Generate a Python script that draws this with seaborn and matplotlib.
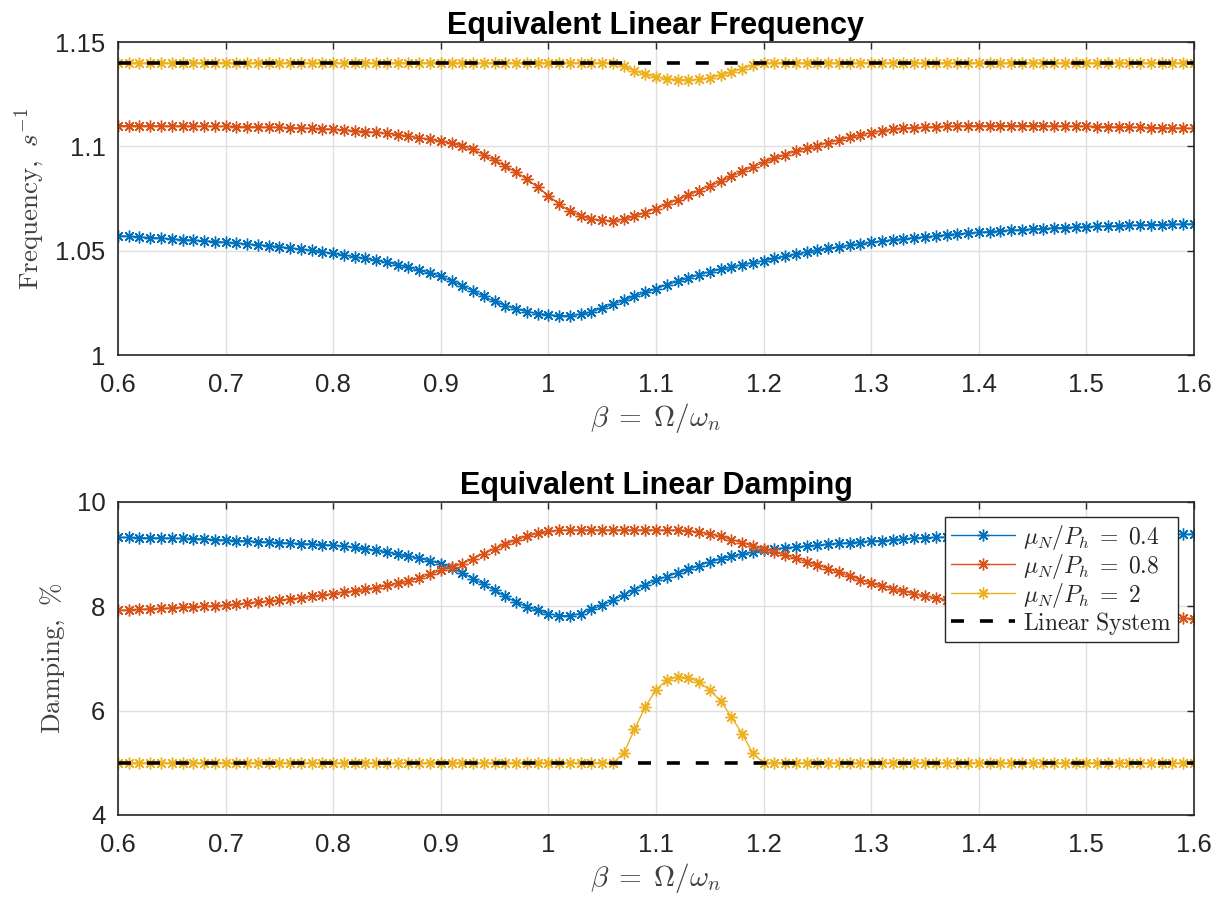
import numpy as np
import matplotlib
matplotlib.use("Agg")
import matplotlib.pyplot as plt
from matplotlib.ticker import FuncFormatter
import seaborn as sns

# Frequency ratio grid (beta = Omega / omega_n)
beta = np.round(np.linspace(0.6, 1.6, 101), 2)

# Equivalent linear frequency, s^-1
freq_mu04 = [
    1.0572, 1.0569, 1.0566, 1.0563, 1.0560, 1.0556, 1.0553, 1.0550, 1.0547, 1.0544,
    1.0540, 1.0536, 1.0532, 1.0528, 1.0524, 1.0519, 1.0513, 1.0507, 1.0501, 1.0494,
    1.0487, 1.0479, 1.0471, 1.0463, 1.0454, 1.0444, 1.0433, 1.0420, 1.0406, 1.0392,
    1.0377, 1.0355, 1.0332, 1.0308, 1.0281, 1.0257, 1.0237, 1.0221, 1.0208, 1.0199,
    1.0193, 1.0189, 1.0189, 1.0195, 1.0207, 1.0224, 1.0243, 1.0262, 1.0281, 1.0300,
    1.0318, 1.0336, 1.0353, 1.0369, 1.0385, 1.0399, 1.0411, 1.0422, 1.0433, 1.0443,
    1.0452, 1.0463, 1.0473, 1.0483, 1.0493, 1.0503, 1.0511, 1.0519, 1.0526, 1.0533,
    1.0540, 1.0546, 1.0552, 1.0557, 1.0562, 1.0567, 1.0571, 1.0576, 1.0580, 1.0584,
    1.0588, 1.0591, 1.0595, 1.0598, 1.0601, 1.0604, 1.0606, 1.0609, 1.0611, 1.0613,
    1.0615, 1.0617, 1.0618, 1.0620, 1.0621, 1.0623, 1.0624, 1.0625, 1.0626, 1.0627,
    1.0628,
]
freq_mu08 = [
    1.1099, 1.1099, 1.1099, 1.1099, 1.1098, 1.1098, 1.1098, 1.1097, 1.1097, 1.1096,
    1.1096, 1.1095, 1.1094, 1.1093, 1.1092, 1.1091, 1.1089, 1.1088, 1.1086, 1.1084,
    1.1082, 1.1079, 1.1075, 1.1071, 1.1067, 1.1062, 1.1056, 1.1049, 1.1041, 1.1033,
    1.1025, 1.1015, 1.1002, 1.0985, 1.0960, 1.0933, 1.0905, 1.0876, 1.0843, 1.0805,
    1.0764, 1.0722, 1.0690, 1.0667, 1.0652, 1.0645, 1.0644, 1.0651, 1.0665, 1.0683,
    1.0702, 1.0722, 1.0744, 1.0766, 1.0788, 1.0809, 1.0832, 1.0856, 1.0880, 1.0902,
    1.0923, 1.0942, 1.0960, 1.0976, 1.0991, 1.1004, 1.1018, 1.1031, 1.1043, 1.1055,
    1.1066, 1.1075, 1.1082, 1.1087, 1.1090, 1.1092, 1.1094, 1.1096, 1.1097, 1.1098,
    1.1099, 1.1099, 1.1099, 1.1099, 1.1099, 1.1099, 1.1098, 1.1098, 1.1097, 1.1097,
    1.1096, 1.1095, 1.1094, 1.1093, 1.1092, 1.1091, 1.1090, 1.1089, 1.1088, 1.1087,
    1.1086,
]
freq_mu2 = [
    1.14, 1.14, 1.14, 1.14, 1.14, 1.14, 1.14, 1.14, 1.14, 1.14,
    1.14, 1.14, 1.14, 1.14, 1.14, 1.14, 1.14, 1.14, 1.14, 1.14,
    1.14, 1.14, 1.14, 1.14, 1.14, 1.14, 1.14, 1.14, 1.14, 1.14,
    1.14, 1.14, 1.14, 1.14, 1.14, 1.14, 1.14, 1.14, 1.14, 1.14,
    1.14, 1.14, 1.14, 1.14, 1.14, 1.14, 1.14, 1.1385, 1.1362, 1.1345,
    1.1333, 1.1325, 1.1320, 1.1318, 1.1321, 1.1329, 1.1341, 1.1356, 1.1372, 1.1388,
    1.14, 1.14, 1.14, 1.14, 1.14, 1.14, 1.14, 1.14, 1.14, 1.14,
    1.14, 1.14, 1.14, 1.14, 1.14, 1.14, 1.14, 1.14, 1.14, 1.14,
    1.14, 1.14, 1.14, 1.14, 1.14, 1.14, 1.14, 1.14, 1.14, 1.14,
    1.14, 1.14, 1.14, 1.14, 1.14, 1.14, 1.14, 1.14, 1.14, 1.14,
    1.14,
]
freq_linear = [1.14, 1.14]

# Equivalent linear damping, %
damp_mu04 = [
    9.32, 9.32, 9.315, 9.31, 9.31, 9.305, 9.30, 9.295, 9.29, 9.28,
    9.27, 9.26, 9.25, 9.24, 9.23, 9.22, 9.21, 9.20, 9.19, 9.18,
    9.17, 9.15, 9.13, 9.10, 9.075, 9.04, 9.00, 8.96, 8.92, 8.87,
    8.82, 8.74, 8.64, 8.53, 8.42, 8.31, 8.19, 8.08, 7.99, 7.92,
    7.86, 7.82, 7.82, 7.86, 7.94, 8.02, 8.12, 8.22, 8.32, 8.41,
    8.50, 8.57, 8.64, 8.71, 8.78, 8.85, 8.91, 8.96, 9.00, 9.04,
    9.07, 9.10, 9.12, 9.14, 9.155, 9.17, 9.19, 9.205, 9.22, 9.235,
    9.25, 9.26, 9.275, 9.29, 9.305, 9.315, 9.32, 9.325, 9.33, 9.335,
    9.34, 9.343, 9.346, 9.349, 9.352, 9.355, 9.357, 9.359, 9.361, 9.363,
    9.365, 9.367, 9.369, 9.371, 9.373, 9.375, 9.376, 9.377, 9.378, 9.379,
    9.38,
]
damp_mu08 = [
    7.92, 7.93, 7.94, 7.95, 7.96, 7.97, 7.98, 7.99, 8.00, 8.01,
    8.02, 8.04, 8.06, 8.08, 8.10, 8.115, 8.14, 8.16, 8.19, 8.215,
    8.24, 8.27, 8.30, 8.33, 8.36, 8.40, 8.44, 8.49, 8.54, 8.61,
    8.69, 8.75, 8.82, 8.91, 9.01, 9.10, 9.19, 9.27, 9.34, 9.40,
    9.44, 9.455, 9.46, 9.46, 9.46, 9.46, 9.46, 9.46, 9.46, 9.46,
    9.46, 9.46, 9.46, 9.45, 9.42, 9.39, 9.34, 9.28, 9.22, 9.16,
    9.10, 9.04, 8.98, 8.92, 8.855, 8.79, 8.72, 8.65, 8.58, 8.51,
    8.44, 8.39, 8.34, 8.29, 8.24, 8.20, 8.16, 8.12, 8.085, 8.05,
    8.02, 7.995, 7.97, 7.95, 7.93, 7.91, 7.89, 7.875, 7.86, 7.845,
    7.83, 7.82, 7.81, 7.80, 7.795, 7.79, 7.785, 7.78, 7.775, 7.77,
    7.765,
]
damp_mu2 = [
    5.0, 5.0, 5.0, 5.0, 5.0, 5.0, 5.0, 5.0, 5.0, 5.0,
    5.0, 5.0, 5.0, 5.0, 5.0, 5.0, 5.0, 5.0, 5.0, 5.0,
    5.0, 5.0, 5.0, 5.0, 5.0, 5.0, 5.0, 5.0, 5.0, 5.0,
    5.0, 5.0, 5.0, 5.0, 5.0, 5.0, 5.0, 5.0, 5.0, 5.0,
    5.0, 5.0, 5.0, 5.0, 5.0, 5.0, 5.0, 5.18, 5.64, 6.07,
    6.40, 6.58, 6.65, 6.63, 6.55, 6.39, 6.19, 5.88, 5.56, 5.18,
    5.0, 5.0, 5.0, 5.0, 5.0, 5.0, 5.0, 5.0, 5.0, 5.0,
    5.0, 5.0, 5.0, 5.0, 5.0, 5.0, 5.0, 5.0, 5.0, 5.0,
    5.0, 5.0, 5.0, 5.0, 5.0, 5.0, 5.0, 5.0, 5.0, 5.0,
    5.0, 5.0, 5.0, 5.0, 5.0, 5.0, 5.0, 5.0, 5.0, 5.0,
    5.0,
]
damp_linear = [5.0, 5.0]
beta_linear = [0.6, 1.6]

series_labels = [r"$\mu_N/P_h\;=\;0.4$", r"$\mu_N/P_h\;=\;0.8$",
                 r"$\mu_N/P_h\;=\;2$", r"$\mathrm{Linear\ System}$"]
colors = ["#0072BD", "#D95319", "#EDB120"]

freq_ticks = [1.0, 1.05, 1.1, 1.15]
damp_ticks = [4, 6, 8, 10]
beta_ticks = [0.6, 0.7, 0.8, 0.9, 1.0, 1.1, 1.2, 1.3, 1.4, 1.5, 1.6]

sns.set_theme(style="white")
plt.rcParams["font.family"] = ["Liberation Sans", "DejaVu Sans"]
plt.rcParams["mathtext.fontset"] = "cm"

fig = plt.figure(figsize=(12.25, 9.02), dpi=100)
ax_f = fig.add_axes([0.0963, 0.6064, 0.8784, 0.347])
ax_d = fig.add_axes([0.0963, 0.0965, 0.8784, 0.347])

asterisk = (8, 2, 0)
ink = "#262626"


def draw_panel(ax, curves, linear, ticks, ylim, title, ylabel, ylabelpad):
    for y, c, lab in zip(curves, colors, series_labels):
        sns.lineplot(x=beta, y=y, ax=ax, color=c, linewidth=1.0,
                     marker=asterisk, markersize=8.5, markeredgewidth=1.0,
                     markeredgecolor=c, errorbar=None, sort=False, label=lab)
    sns.lineplot(x=beta_linear, y=linear, ax=ax, color="black", linewidth=2.6,
                 dashes=False, errorbar=None, sort=False, label=series_labels[3])
    ax.lines[-1].set_dashes((3.6, 4.4))
    if ax.get_legend() is not None:
        ax.get_legend().remove()

    ax.set_xlim(0.6, 1.6)
    ax.set_ylim(*ylim)
    ax.set_xticks(beta_ticks)
    ax.set_yticks(ticks)
    fmt = FuncFormatter(lambda v, p: f"{v:g}")
    ax.xaxis.set_major_formatter(fmt)
    ax.yaxis.set_major_formatter(fmt)
    ax.grid(True, color="#e0e0e0", linewidth=1.0)
    ax.set_axisbelow(True)
    ax.tick_params(direction="in", length=5, width=1.0, color=ink,
                   top=True, right=True, labelsize=18.5, labelcolor=ink)
    ax.tick_params(axis="x", pad=13)
    ax.tick_params(axis="y", pad=9)
    for s in ax.spines.values():
        s.set_color(ink)
        s.set_linewidth(1.2)
    ax.set_title(title, fontsize=22, fontweight="bold", color="black", pad=6)
    ax.set_xlabel(r"$\beta\;=\;\Omega/\omega_n$", fontsize=21, color="#404040", labelpad=3)
    ax.set_ylabel(ylabel, fontsize=19.5, color="#404040", labelpad=ylabelpad)


draw_panel(ax_f, [freq_mu04, freq_mu08, freq_mu2], freq_linear, freq_ticks,
           (1.0, 1.15), "Equivalent Linear Frequency", r"$\mathrm{Frequency,}\ s^{-1}$", 6)
draw_panel(ax_d, [damp_mu04, damp_mu08, damp_mu2], damp_linear, damp_ticks,
           (4, 10), "Equivalent Linear Damping", r"$\mathrm{Damping,}\ \%$", 7)

handles, labels = ax_d.get_legend_handles_labels()
leg = ax_d.legend(handles, labels, loc="upper right", bbox_to_anchor=(0.985, 0.953),
                  borderaxespad=0, fontsize=17, frameon=True, fancybox=False,
                  framealpha=1, edgecolor=ink, handlelength=2.7, labelspacing=0.0,
                  borderpad=0.25, handletextpad=0.35)
leg.get_frame().set_linewidth(1.0)

fig.savefig("out.png", dpi=100)
